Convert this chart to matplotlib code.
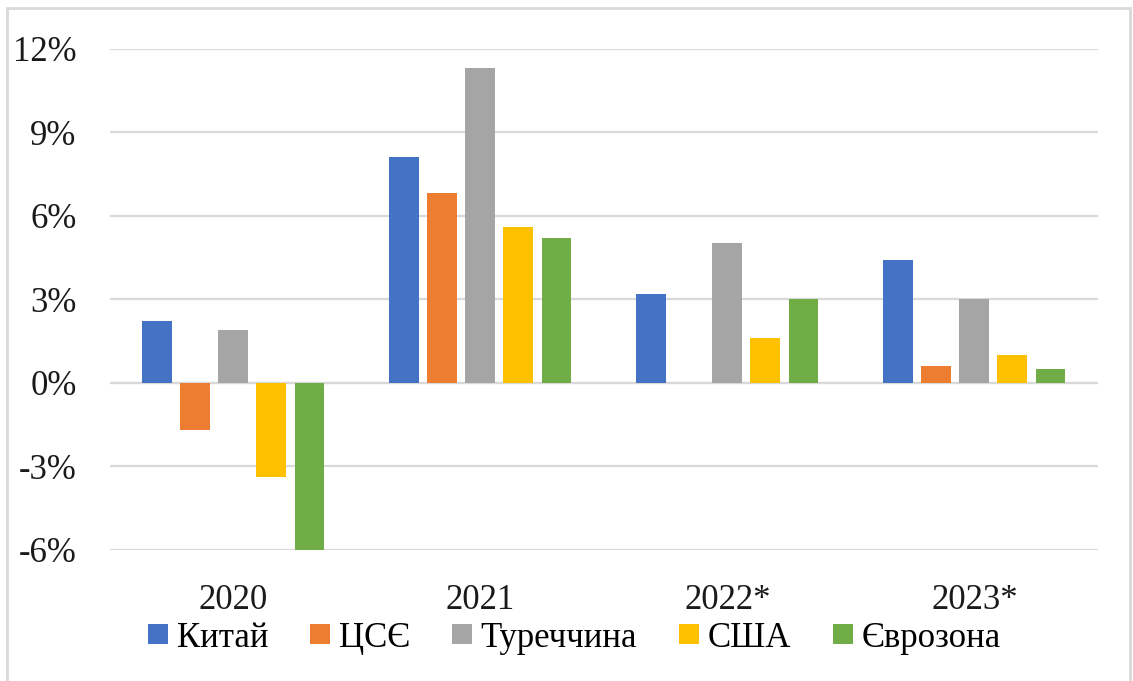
import numpy as np
import matplotlib.pyplot as plt
from matplotlib.patches import Rectangle
from matplotlib.ticker import FuncFormatter

# data (% change)
years = ['2020', '2021', '2022*', '2023*']
series = ['Китай', 'ЦСЄ', 'Туреччина', 'США', 'Єврозона']
china = [2.2, 8.1, 3.2, 4.4]
cee = [-1.7, 6.8, 0.0, 0.6]
turkey = [1.9, 11.3, 5.0, 3.0]
usa = [-3.4, 5.6, 1.6, 1.0]
eurozone = [-6.1, 5.2, 3.0, 0.5]
colors = ['#4472C4', '#ED7D31', '#A5A5A5', '#FFC000', '#70AD47']

plt.rcParams['font.family'] = ['Liberation Serif', 'DejaVu Serif']

fig = plt.figure(figsize=(11.33, 6.81), dpi=100)
ax = fig.add_axes([0.097, 0.193, 0.872, 0.7355])

x = np.arange(len(years))
step = 0.154
width = 0.121
for i, (name, vals) in enumerate(zip(series, [china, cee, turkey, usa, eurozone])):
    ax.bar(x + (i - 2) * step, vals, width, color=colors[i], label=name, zorder=3)

ax.set_xlim(-0.5, len(years) - 0.5)
ax.set_ylim(-6, 12)
ax.set_yticks(np.arange(-6, 13, 3))
ax.yaxis.set_major_formatter(FuncFormatter(lambda v, p: f'{v:.0f}%'))
ax.set_xticks(x)
ax.set_xticklabels(years)
ax.grid(axis='y', color='#D9D9D9', linewidth=1.6, zorder=0)
ax.axhline(0, color='#D9D9D9', linewidth=1.6, zorder=1)
for s in ax.spines.values():
    s.set_visible(False)
ax.tick_params(axis='both', length=0, labelsize=25, colors='#1a1a1a')
ax.tick_params(axis='y', pad=24)
ax.tick_params(axis='x', pad=25)

fig.legend(loc='center', bbox_to_anchor=(0.507, 0.063), ncol=5, frameon=False,
           fontsize=25, handlelength=0.58, handleheight=0.5, handletextpad=0.25,
           columnspacing=1.2, borderaxespad=0)

# light frame around chart area
fig.patches.append(Rectangle((7 / 1133, -0.05), (1130 - 7) / 1133, 1.05 - 8 / 681,
                             transform=fig.transFigure, fill=False,
                             edgecolor='#D9D9D9', linewidth=2))

fig.savefig('out.png', dpi=100)
